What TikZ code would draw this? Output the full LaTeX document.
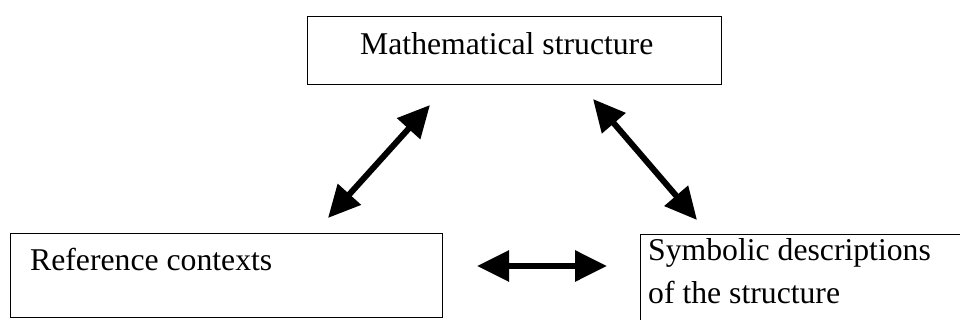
\documentclass[tikz,border=0pt]{standalone}
\usepackage{fontspec}
\setmainfont{Liberation Serif}
\usetikzlibrary{arrows.meta}
\begin{document}
\begin{tikzpicture}[x=1pt,y=-1pt,
  box/.style={draw=black, line width=1.4pt, inner sep=0pt, anchor=north west},
  lbl/.style={inner sep=0pt, anchor=base west, font=\fontsize{31.7}{43}\selectfont, align=left},
  dbl/.style={line width=6pt, {Triangle[length=32pt,width=30pt]}-{Triangle[length=32pt,width=30pt]}}]
\clip (0,0) rectangle (960,320);
\fill[white] (0,0) rectangle (960,320);
% boxes
\node[box, minimum width=414pt, minimum height=68pt] (ms) at (307,16) {};
\node[box, minimum width=432pt, minimum height=84pt] (rc) at (10,233) {};
\node[box, minimum width=360pt, minimum height=120pt] (sd) at (640,234) {};
% labels
\node[lbl] (mst) at (360,55) {Mathematical structure};
\node[lbl] (rct) at (30,270) {Reference contexts};
\node[lbl] (sdt) at (648,303) {Symbolic descriptions\\of the structure};
% arrow end points
\coordinate (a1) at (430,105);
\coordinate (a2) at (328,218);
\coordinate (b1) at (593,99);
\coordinate (b2) at (697,220);
\coordinate (c1) at (477,266);
\coordinate (c2) at (607,266);
\draw[dbl] (a1) -- (a2);
\draw[dbl] (b1) -- (b2);
\draw[dbl] (c1) -- (c2);
\end{tikzpicture}
\end{document}
